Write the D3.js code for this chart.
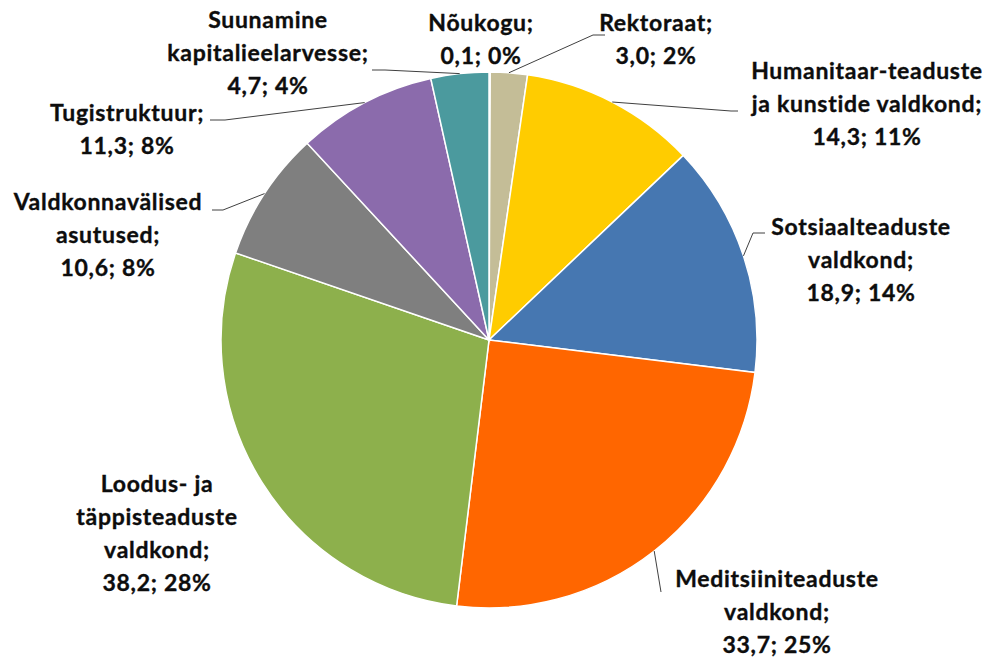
<!DOCTYPE html>
<html lang="et">
<head>
    <meta charset="utf-8">
    <title>Pie</title>
    <script src="https://d3js.org/d3.v7.min.js" charset="utf-8"></script>
    <style>
        body { margin: 0; background: #fff; }
        text { font-family: Lato, "Open Sans", sans-serif; font-weight: bold; fill: #0d0d0d; stroke: #0d0d0d; stroke-width: 0.35px; letter-spacing: 0.7px; }
    </style>
</head>
<body>
<script>

    // data, clockwise from 12 o'clock
    var names = ["Nõukogu", "Rektoraat", "Humanitaar-teaduste ja kunstide valdkond",
        "Sotsiaalteaduste valdkond", "Meditsiiniteaduste valdkond", "Loodus- ja täppisteaduste valdkond",
        "Valdkonnavälised asutused", "Tugistruktuur", "Suunamine kapitalieelarvesse"]
    var values = [0.1, 3.0, 14.3, 18.9, 33.7, 38.2, 10.6, 11.3, 4.7]
    var percents = ["0%", "2%", "11%", "14%", "25%", "28%", "8%", "8%", "4%"]
    var colors = ["#f2f2f2", "#c4bd97", "#ffcc00", "#4677b1", "#ff6600", "#8db04c", "#7f7f7f", "#8b6bac", "#4b9a9e"]

    // label layout: text lines, centre x, first baseline, leader elbow points
    var labelLayout = [
        {lines: ["Nõukogu;"], x: 481, y: 31, leader: null},
        {lines: ["Rektoraat;"], x: 656, y: 31, leader: [[593, 35], [605, 35]]},
        {lines: ["Humanitaar-teaduste", "ja kunstide valdkond;"], x: 867, y: 79, leader: [[731, 111], [738, 111]]},
        {lines: ["Sotsiaalteaduste", "valdkond;"], x: 861, y: 235, leader: [[753, 233], [765, 233]]},
        {lines: ["Meditsiiniteaduste", "valdkond;"], x: 777, y: 587, leader: [[661, 592]]},
        {lines: ["Loodus- ja", "täppisteaduste", "valdkond;"], x: 157, y: 492, leader: null},
        {lines: ["Valdkonnavälised", "asutused;"], x: 108, y: 210, leader: [[223, 210], [212, 210]]},
        {lines: ["Tugistruktuur;"], x: 127, y: 121, leader: [[225, 120], [210, 120]]},
        {lines: ["Suunamine", "kapitalieelarvesse;"], x: 268, y: 28, leader: [[385, 70], [372, 70]]}
    ]

    var w = 992, h = 658
    var cx = 489, cy = 340, r = 268
    var lineH = 33

    var svg = d3.select("body").append("svg").attr("width", w).attr("height", h)

    var pie = d3.pie().sort(null).value(function(d) { return d })
    var arcs = pie(values)

    var arc = d3.arc().innerRadius(0).outerRadius(r)

    var g = svg.append("g").attr("transform", "translate(" + cx + "," + cy + ")")

    g.selectAll("path.slice").data(arcs).enter().append("path")
        .attr("class", "slice")
        .attr("d", arc)
        .attr("fill", function(d, i) { return colors[i] })
        .attr("stroke", "#fff").attr("stroke-width", 1.5)

    var fmt = function(v) { return d3.format(".1f")(v).replace(".", ",") }

    arcs.forEach(function(a, i) {
        var lay = labelLayout[i]
        var mid = (a.startAngle + a.endAngle) / 2
        var px = cx + r * Math.sin(mid), py = cy - r * Math.cos(mid)

        if (lay.leader) {
            var pts = [[px, py]].concat(lay.leader)
            svg.append("path")
                .attr("d", d3.line()(pts))
                .attr("fill", "none").attr("stroke", "#404040").attr("stroke-width", 1)
        }

        var lines = lay.lines.concat([fmt(values[i]) + "; " + percents[i]])
        var t = svg.append("text").attr("text-anchor", "middle").attr("font-size", 23)
        lines.forEach(function(s, k) {
            t.append("tspan").attr("x", lay.x).attr("y", lay.y + k * lineH).text(s)
        })
    })

</script>
</body>
</html>
